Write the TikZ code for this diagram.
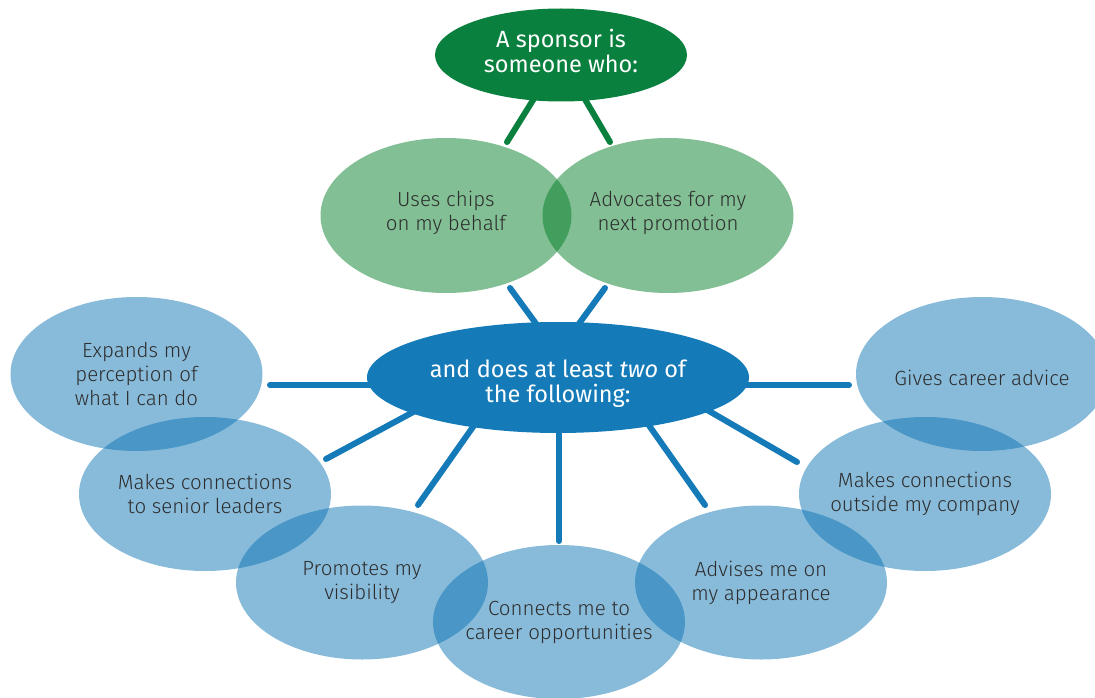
\documentclass[tikz,border=0pt]{standalone}
\usepackage{fontspec}
\setmainfont{Fira Sans}[UprightFont={* Light}, ItalicFont={* Light Italic}]
\newfontfamily\titlefont{Fira Sans}
\usetikzlibrary{shapes.geometric}
\definecolor{dkgreen}{RGB}{10,128,63}
\definecolor{ltgreen}{RGB}{0,124,36}
\definecolor{spblue}{RGB}{20,122,184}
\definecolor{ltblue}{RGB}{7,113,178}
\definecolor{txt}{RGB}{45,45,45}
\begin{document}
\begin{tikzpicture}[x=1pt,y=-1pt,
  bubble/.style={ellipse, inner sep=0pt, minimum width=252pt, minimum height=154pt, fill=ltblue, fill opacity=0.48},
  gbubble/.style={ellipse, inner sep=0pt, minimum width=251pt, minimum height=155pt, fill=ltgreen, fill opacity=0.49},
  lbl/.style={align=center, text=txt, font=\fontsize{20.5}{24}\selectfont},
  head/.style={align=center, text=white, font=\titlefont\fontsize{23.5}{25}\selectfont},
  gline/.style={draw=dkgreen, line width=6pt, line cap=round},
  bline/.style={draw=spblue, line width=6pt, line cap=round}]
\useasboundingbox (0,0) rectangle (1095,698);
\clip (0,0) rectangle (1095,698);
% connector end points
\coordinate (g1a) at (543,84);  \coordinate (g1b) at (507,142);
\coordinate (g2a) at (576,84);  \coordinate (g2b) at (610,142);
\coordinate (b1a) at (510,288); \coordinate (b1b) at (545,336);
\coordinate (b2a) at (605,288); \coordinate (b2b) at (570,336);
\coordinate (s1a) at (270,385); \coordinate (s1b) at (400,385);
\coordinate (s2a) at (326,459); \coordinate (s2b) at (430,403);
\coordinate (s3a) at (418,505); \coordinate (s3b) at (487,407);
\coordinate (s4a) at (559,541); \coordinate (s4b) at (559,420);
\coordinate (s5a) at (705,505); \coordinate (s5b) at (636,407);
\coordinate (s6a) at (797,462); \coordinate (s6b) at (690,400);
\coordinate (s7a) at (849,385); \coordinate (s7b) at (720,385);
% connectors (beneath the nodes)
\draw[gline] (g1a) -- (g1b);
\draw[gline] (g2a) -- (g2b);
\draw[bline] (b1a) -- (b1b);
\draw[bline] (b2a) -- (b2b);
\foreach \i in {1,...,7} {\draw[bline] (s\i a) -- (s\i b);}
% top and centre
\node[ellipse, inner sep=0pt, minimum width=252pt, minimum height=93pt, fill=dkgreen] (top) at (561,55) {};
\node[head] (toplbl) at ([yshift=4pt]top) {A sponsor is\\someone who:};
\node[ellipse, inner sep=0pt, minimum width=382pt, minimum height=111pt, fill=spblue] (cent) at (558,377.5) {};
\node[head] (centlbl) at ([yshift=-6pt]cent) {and does at least \textit{two} of\\the following:};
% green bubbles
\node[gbubble] (gl) at (446,215.5) {};
\node[gbubble] (gr) at (668,215.5) {};
\node[lbl] (gllbl) at ([yshift=3pt]gl) {Uses chips\\on my behalf};
\node[lbl] (grlbl) at ([yshift=3pt]gr) {Advocates for my\\next promotion};
% blue bubbles
\node[bubble] (e1) at (136.5,374) {};
\node[bubble] (e2) at (205,494) {};
\node[bubble] (e3) at (362,582.5) {};
\node[bubble] (e4) at (559,622) {};
\node[bubble] (e5) at (761,582.5) {};
\node[bubble] (e6) at (925,494) {};
\node[bubble] (e7) at (982,374) {};
\node[lbl] (l1) at (e1) {Expands my\\perception of\\what I can do};
\node[lbl] (l2) at (e2) {Makes connections\\to senior leaders};
\node[lbl] (l3) at (e3) {Promotes my\\visibility};
\node[lbl] (l4) at (e4) {Connects me to\\career opportunities};
\node[lbl] (l5) at (e5) {Advises me on\\my appearance};
\node[lbl] (l6) at (e6) {Makes connections\\outside my company};
\node[lbl] (l7) at ([yshift=-4pt]e7) {Gives career advice};
\end{tikzpicture}
\end{document}
